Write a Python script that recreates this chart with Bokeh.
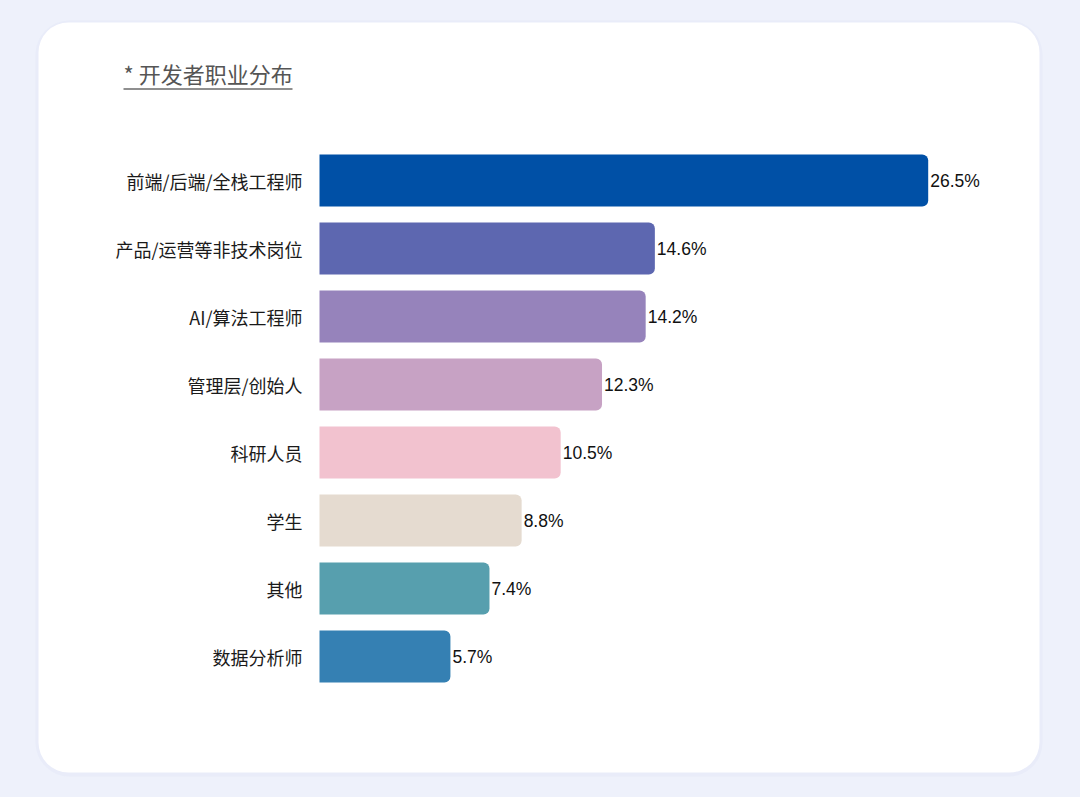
from bokeh.plotting import figure
from bokeh.models import Range1d
from bokeh.core.properties import value
from bokeh.embed import file_html
from bokeh.resources import INLINE
import numpy as np

# ---- data ----
title_text = "* 开发者职业分布"
categories = ["前端/后端/全栈工程师", "产品/运营等非技术岗位", "AI/算法工程师", "管理层/创始人",
              "科研人员", "学生", "其他", "数据分析师"]
shares = [26.5, 14.6, 14.2, 12.3, 10.5, 8.8, 7.4, 5.7]
bar_colors = ["#0050a6", "#5d67b0", "#9683bb", "#c7a2c4", "#f2c2cf", "#e5dbd0", "#579fae", "#3580b3"]
value_labels = [f"{v:.1f}%" for v in shares]

# ---- layout constants (pixels inside the figure) ----
W, H = 1080, 797
PX_PER_UNIT = 22.97      # horizontal pixels per percent
X0 = 319                 # pixel x of value 0
ROW = 68                 # pixel spacing between bars
Y0 = 180                 # pixel y of first bar centre

def dx(px):
    return (px - X0) / PX_PER_UNIT

def dy(py):
    return (py - Y0) / ROW

p = figure(width=W, height=H, output_backend="svg", toolbar_location=None,
           x_range=Range1d(dx(0), dx(W)), y_range=Range1d(dy(H), dy(0)),
           min_border=0, outline_line_color=None,
           background_fill_color="#eef1fb", border_fill_color="#eef1fb")
p.axis.visible = False
p.grid.visible = False

# card shadow + card
p.quad(left=[dx(35)], right=[dx(1042)], top=[dy(20)], bottom=[dy(776)],
       fill_color="#e2e6f7", fill_alpha=0.4, line_color=None, border_radius=34)
p.quad(left=[dx(38)], right=[dx(1039)], top=[dy(22)], bottom=[dy(772)],
       fill_color="white", line_color=None, border_radius=30)

# title + underline
p.text(x=[dx(123)], y=[dy(72)], text=[title_text], text_font=value("Noto Sans CJK SC"),
       text_font_size="22px", text_color="#555555", text_align="left", text_baseline="middle")
p.segment(x0=[dx(123)], x1=[dx(292)], y0=[dy(88.5)], y1=[dy(88.5)],
          line_color="#6a6a6a", line_width=1.6)

rows = np.arange(len(categories))

# bars
p.hbar(y=rows, left=0, right=shares, height=52 / ROW, fill_color=bar_colors,
       line_color=None, border_radius=(0, 6, 6, 0))

# category labels
p.text(x=[dx(302)] * len(categories), y=rows, text=categories,
       text_font=value("Noto Sans CJK SC"), text_font_size="18px", text_color="#1a1a1a",
       text_align="right", text_baseline="middle")

# value labels
p.text(x=shares, y=rows, text=value_labels, x_offset=2,
       text_font=value("Liberation Sans"), text_font_size="17.5px", text_color="#111111",
       text_align="left", text_baseline="middle")

html = file_html(p, INLINE, title="开发者职业分布")
html = html.replace("<head>", "<head><style>html,body{background:#eef1fb;}</style>", 1)
open("out.html", "w").write(html)
